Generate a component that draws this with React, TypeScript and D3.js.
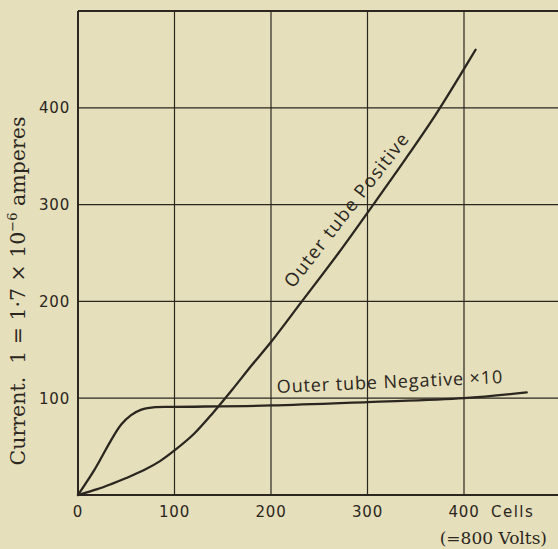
import React from "react";
import * as d3 from "d3";

const W = 558;
const H = 549;

// Axis ticks
const xTicks = [0, 100, 200, 300, 400];
const yTicks = [100, 200, 300, 400];
const gridX = [100, 200, 300, 400];
const gridY = [100, 200, 300, 400];

// Outer tube Positive
const posX = [0, 20, 35, 50, 69, 85, 100, 120, 140, 160, 180, 200, 232, 270, 306, 340, 370, 395, 412];
const posY = [0, 6, 11.5, 17.5, 26, 35, 46, 63, 85, 109, 134, 158, 200, 250, 300, 348, 392, 432, 460];

// Outer tube Negative x10
const negX = [0, 8, 17, 25, 34.5, 45, 55, 65, 78, 100, 200, 300, 400, 465];
const negY = [0, 12, 26, 40, 57, 73, 82.5, 88, 90.5, 91, 92.5, 96, 100, 106];

const ink = "#2b2620";

export default function App() {
  const x = d3.scaleLinear().domain([0, 500]).range([78, 560.5]);
  const y = d3.scaleLinear().domain([0, 500]).range([495, 11]);

  const line = d3
    .line<[number, number]>()
    .x((d) => x(d[0]))
    .y((d) => y(d[1]))
    .curve(d3.curveCatmullRom.alpha(0.5));

  const pos = line(posX.map((v, i) => [v, posY[i]] as [number, number])) || "";
  const neg = line(negX.map((v, i) => [v, negY[i]] as [number, number])) || "";

  return (
    <svg
      width={W}
      height={H}
      style={{ position: "absolute", left: 0, top: 0 }}
      xmlns="http://www.w3.org/2000/svg"
    >
      <rect x={0} y={0} width={W} height={H} fill="#e5dfbb" />
      {/* grid */}
      {gridX.map((v) => (
        <line key={"gx" + v} x1={x(v)} x2={x(v)} y1={y(500)} y2={y(0)} stroke={ink} strokeWidth={1.2} />
      ))}
      {gridY.map((v) => (
        <line key={"gy" + v} x1={x(0)} x2={W} y1={y(v)} y2={y(v)} stroke={ink} strokeWidth={1.2} />
      ))}
      {/* frame */}
      <line x1={x(0)} x2={x(0)} y1={y(500)} y2={y(0)} stroke={ink} strokeWidth={2} />
      <line x1={x(0)} x2={W} y1={y(0)} y2={y(0)} stroke={ink} strokeWidth={2} />
      <line x1={x(0)} x2={W} y1={y(500)} y2={y(500)} stroke={ink} strokeWidth={2} />

      {/* curves */}
      <path d={pos} fill="none" stroke={ink} strokeWidth={2.3} strokeLinecap="round" />
      <path d={neg} fill="none" stroke={ink} strokeWidth={2.3} strokeLinecap="round" />

      {/* y tick labels */}
      {yTicks.map((v) => (
        <text
          key={"yt" + v}
          x={70}
          y={y(v) + 5.5}
          textAnchor="end"
          fontFamily="DejaVu Sans"
          fontSize={15}
          letterSpacing={0.8}
          fill={ink}
        >
          {v}
        </text>
      ))}
      {/* x tick labels */}
      {xTicks.map((v) => (
        <text
          key={"xt" + v}
          x={x(v)}
          y={516.5}
          textAnchor="middle"
          fontFamily="DejaVu Sans"
          fontSize={15}
          letterSpacing={0.8}
          fill={ink}
        >
          {v}
        </text>
      ))}
      <text x={491} y={516.5} fontFamily="DejaVu Sans" fontSize={15} letterSpacing={1.5} fill={ink}>
        Cells
      </text>
      <text x={547} y={544} textAnchor="end" fontFamily="DejaVu Serif" fontSize={17} fill={ink}>
        (=800 Volts)
      </text>

      {/* y axis title */}
      <text
        transform="translate(25,291) rotate(-90)"
        textAnchor="middle"
        fontFamily="DejaVu Serif"
        fontSize={20.5}
        fill={ink}
      >
        Current.{"\u00A0\u00A0"}1 = 1·7 × 10
        <tspan dy={-8} fontSize={13}>−6</tspan>
        <tspan dy={8}> amperes</tspan>
      </text>

      {/* curve labels */}
      <text
        transform="translate(293,289) rotate(-52)"
        fontFamily="Open Sans"
        fontSize={18.5}
        letterSpacing={1.3}
        fill={ink}
      >
        Outer tube Positive
      </text>
      <text
        transform="translate(277,393) rotate(-2.5)"
        fontFamily="Open Sans"
        fontSize={18}
        letterSpacing={0.9}
        fill={ink}
      >
        Outer tube Negative ×10
      </text>
    </svg>
  );
}
